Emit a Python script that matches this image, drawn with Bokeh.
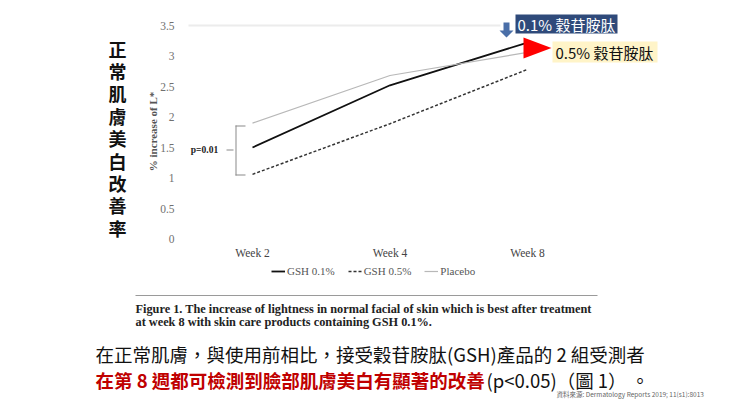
import numpy as np
from bokeh.plotting import figure
from bokeh.models import Range1d, Label, Legend, LegendItem, BoxAnnotation, PolyAnnotation
from bokeh.core.properties import value
from bokeh.embed import file_html
from bokeh.resources import INLINE

# ---------------- data ----------------
weeks = ["Week 2", "Week 4", "Week 8"]
gsh_01 = [1.50, 2.52, 3.22]
gsh_05 = [1.06, 1.89, 2.78]
placebo = [1.90, 2.68, 3.06]
y_ticks = [0, 0.5, 1, 1.5, 2, 2.5, 3, 3.5]
y_tick_labels = ["0", "0.5", "1", "1.5", "2", "2.5", "3", "3.5"]
legend_labels = ["GSH 0.1%", "GSH 0.5%", "Placebo"]
side_title = "正常肌膚美白改善率"
y_axis_title = "% increase of L*"
p_value_text = "p=0.01"
tag_01 = "0.1% 穀苷胺肽"
tag_05 = "0.5% 穀苷胺肽"
caption_lines = [
    "Figure 1. The increase of lightness in normal facial of skin which is best after treatment",
    "at week 8 with skin care products containing GSH 0.1%.",
]
body_line1 = "在正常肌膚，與使用前相比，接受穀苷胺肽(GSH)產品的 2 組受測者"
body_line2_red = "在第 8 週都可檢測到臉部肌膚美白有顯著的改善"
body_line2_black = "(p<0.05)（圖 1） 。"
source_text = "資料來源: Dermatology Reports 2019; 11(s1):8013"

# ---------------- layout ----------------
W, H = 724, 400
# pixel anchors of the pasted chart inside the slide
X_FIRST, X_STEP = 252.0, 137.5     # px of first category, px between categories
Y_ZERO, Y_UNIT = 238.5, 61.0       # px of value 0, px per unit
x0 = -X_FIRST / X_STEP
y0 = -(H - Y_ZERO) / Y_UNIT

p = figure(width=W, height=H, x_range=Range1d(x0, x0 + W / X_STEP),
           y_range=Range1d(y0, y0 + H / Y_UNIT),
           x_axis_type=None, y_axis_type=None,
           output_backend="svg", toolbar_location=None,
           min_border=0, min_border_left=0, min_border_right=0,
           min_border_top=0, min_border_bottom=0)
p.outline_line_color = None
p.grid.visible = False
p.background_fill_color = "white"
p.border_fill_color = "white"


def sx(X):
    return X


def sy(Y):
    return H - Y


def dx(X):
    return (X - X_FIRST) / X_STEP


def dy(Y):
    return (Y_ZERO - Y) / Y_UNIT


def box(xa, ya, xb, yb, color):
    p.add_layout(BoxAnnotation(left=sx(xa), right=sx(xb), top=sy(ya), bottom=sy(yb),
                               left_units="screen", right_units="screen",
                               top_units="screen", bottom_units="screen",
                               fill_color=color, fill_alpha=1, line_color=None))


def poly(pts, color):
    p.add_layout(PolyAnnotation(xs=[sx(a) for a, b in pts], ys=[sy(b) for a, b in pts],
                                xs_units="screen", ys_units="screen",
                                fill_color=color, fill_alpha=1, line_color=None))


def lab(text, X, Y, size, color, font="Noto Sans CJK TC", style="normal",
        align="left", baseline="middle", angle=0):
    p.add_layout(Label(x=sx(X), y=sy(Y), x_units="screen", y_units="screen", text=text,
                       text_font=font, text_font_size=f"{size}px", text_color=color,
                       text_font_style=style, text_align=align, text_baseline=baseline,
                       angle=angle))


# faint top rule of the pasted chart
box(188, 24, 500, 26, "#ececec")

# ---------------- axes (tick labels through the data scales) ----------------
xpos = list(range(len(weeks)))
p.text(x=[dx(174)] * len(y_ticks), y=y_ticks, text=y_tick_labels,
       text_font=value("Liberation Serif"), text_font_size="11.5px", text_color="#707070",
       text_align="right", text_baseline="middle")
p.text(x=xpos, y=[dy(252)] * len(weeks), text=weeks,
       text_font=value("Liberation Serif"), text_font_size="11.5px", text_color="#444444",
       text_align="center", text_baseline="middle")

# ---------------- series ----------------
r1 = p.line(xpos, gsh_01, line_color="#111111", line_width=1.8)
r2 = p.line(xpos, gsh_05, line_color="#333333", line_width=1.5, line_dash="3 2")
r3 = p.line(xpos, placebo, line_color="#b8b8b8", line_width=1.2)

legend = Legend(items=[LegendItem(label=legend_labels[0], renderers=[r1]),
                       LegendItem(label=legend_labels[1], renderers=[r2]),
                       LegendItem(label=legend_labels[2], renderers=[r3])],
                orientation="horizontal", location=(sx(271), sy(277)),
                glyph_width=14, glyph_height=10, label_standoff=2, spacing=13,
                padding=0, margin=0, border_line_color=None, background_fill_alpha=0,
                label_text_font="Liberation Serif", label_text_font_size="11px",
                label_text_color="#555555", label_height=12)
p.add_layout(legend)

# significance bracket
for b in [(235, 125, 236, 175), (235, 125, 245, 126), (235, 174, 245, 175), (226, 149, 233, 150)]:
    box(*b, "#8a8a8a")
lab(p_value_text, 204, 149, 9.5, "#222222", font="Liberation Serif", style="bold", align="center")

# y axis title (rotated)
lab(y_axis_title, 152, 131, 11, "#555555", font="Liberation Serif", style="bold",
    align="center", angle=np.pi / 2)

# side title (vertical)
for i, ch in enumerate(side_title):
    lab(ch, 117, 48 + i * 22.4, 18, "#111111", style="bold", align="center")

# callouts
poly([(503, 22), (509, 22), (509, 30), (513, 30), (506, 37), (499, 30), (503, 30)], "#4a6fa8")
box(515, 14, 617, 33, "#2f4a7a")
lab(tag_01, 566, 23.5, 15, "#ffffff", align="center")
poly([(523, 37), (523, 58), (551, 47.5)], "#ff0000")
box(552, 41, 657, 62, "#fff4c8")
lab(tag_05, 555, 51.5, 15, "#111111")

# caption of the figure
box(135, 294.5, 597, 295.5, "#9a9a9a")
lab(caption_lines[0], 135, 308, 12.3, "#222222", font="Liberation Serif", style="bold")
lab(caption_lines[1], 135, 321, 12.3, "#222222", font="Liberation Serif", style="bold")

# slide body text
lab(body_line1, 95, 353, 18.5, "#111111")
lab(body_line2_red, 95, 379, 18.5, "#c00000", style="bold")
lab(body_line2_black, 486, 379, 18.5, "#111111")
lab(source_text, 556, 393, 6.5, "#666666")

open("out.html", "w").write(file_html(p, INLINE))
